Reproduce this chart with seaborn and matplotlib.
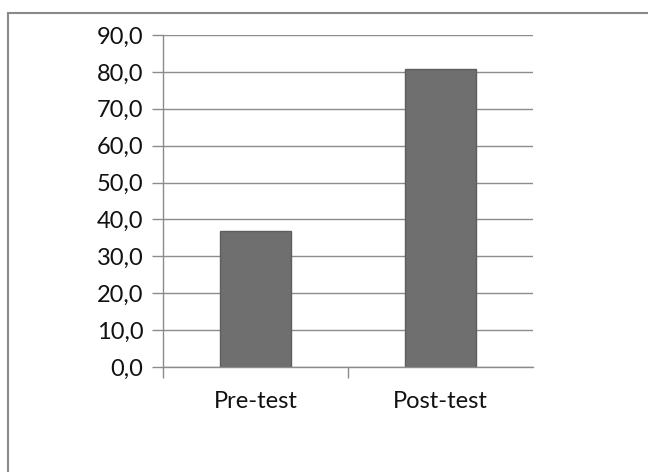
import matplotlib
matplotlib.use("Agg")
import matplotlib.pyplot as plt
import seaborn as sns
import pandas as pd
from matplotlib.ticker import FuncFormatter
from matplotlib.patches import Rectangle

# Data
categories = ["Pre-test", "Post-test"]
scores = [37.0, 80.7]
y_ticks = [0, 10, 20, 30, 40, 50, 60, 70, 80, 90]

df = pd.DataFrame({"Test": categories, "Score": scores})

sns.set_theme(style="white")
plt.rcParams['font.family'] = ['Lato', 'DejaVu Sans']

fig = plt.figure(figsize=(6.48, 4.72), dpi=100)
W, H = 648, 472
ax = fig.add_axes([163 / W, 1 - 367 / H, (533 - 163) / W, (367 - 35) / H])

sns.barplot(data=df, x="Test", y="Score", ax=ax, color="#6f6f6f",
            width=0.385, edgecolor="#5e5e5e", linewidth=1.0, saturation=1)

ax.set_xlim(-0.5, 1.5)
ax.set_ylim(0, 90)
ax.set_yticks(y_ticks)
ax.yaxis.set_major_formatter(FuncFormatter(lambda v, p: f"{v:.1f}".replace(".", ",")))
ax.yaxis.grid(True, color="#8c8c8c", linewidth=1.0)
ax.set_axisbelow(True)
ax.set_xlabel("")
ax.set_ylabel("")

# category boundary ticks on x axis
ax.set_xticks([-0.5, 0.5], minor=True)
ax.tick_params(axis="x", which="minor", length=8, width=1, color="#8c8c8c", direction="out", bottom=True)
ax.tick_params(axis="x", which="major", length=0, labelsize=17, pad=17, labelcolor="#111111")
ax.tick_params(axis="y", which="major", length=8, width=1, color="#8c8c8c", direction="out",
               left=True, labelsize=17, pad=6, labelcolor="#111111")

for s in ["top", "right"]:
    ax.spines[s].set_visible(False)
for s in ["left", "bottom"]:
    ax.spines[s].set_color("#8c8c8c")
    ax.spines[s].set_linewidth(1.0)

# outer chart border
fig.patches.append(Rectangle((8 / W, -0.01), 1.0, 1 - 13 / H + 0.01, transform=fig.transFigure,
                             fill=False, edgecolor="#8a8a8a", linewidth=1.5))

fig.savefig("out.png", dpi=100)
